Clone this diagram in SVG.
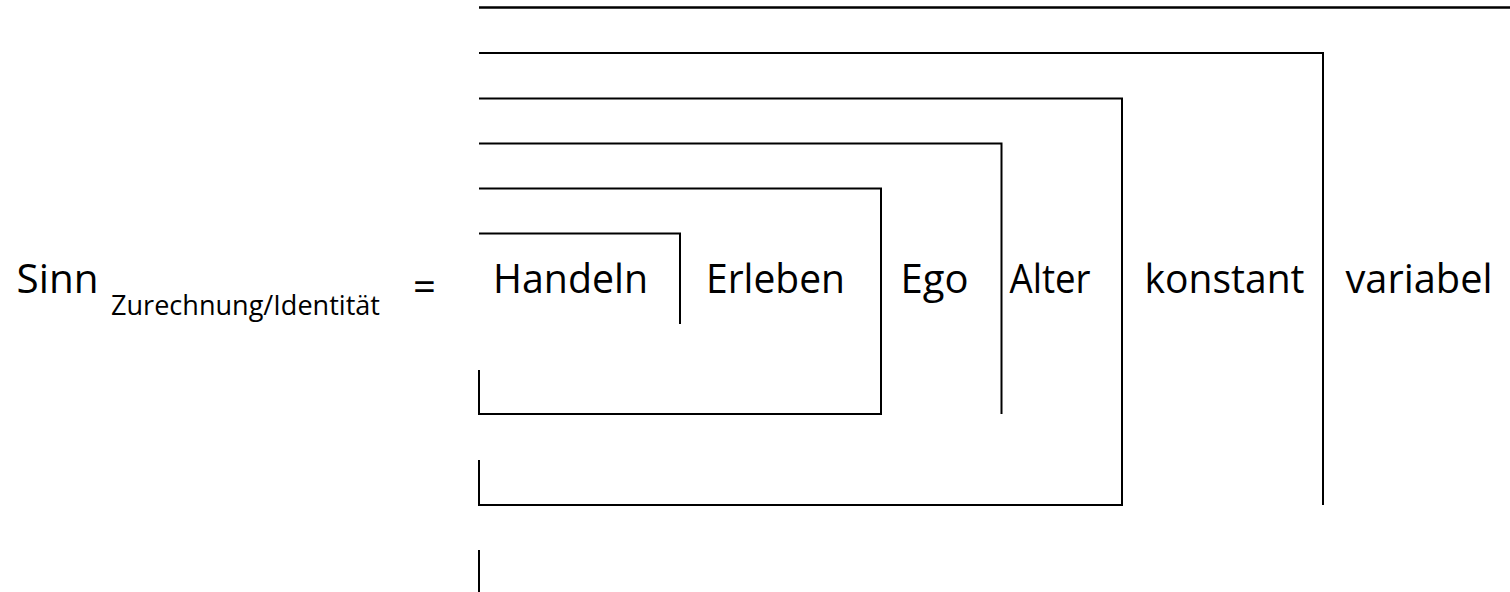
<svg xmlns="http://www.w3.org/2000/svg" width="1510" height="592" viewBox="0 0 1510 592">
<style>
.ln{fill:none;stroke:#000;stroke-width:2;stroke-linejoin:miter;stroke-linecap:butt}
.t{font-family:"Open Sans","Noto Sans","Liberation Sans",sans-serif;font-size:40px;fill:#000;text-anchor:middle}
.s{font-size:27px}
</style>
<rect width="1510" height="592" fill="#fff"/>
<g id="connectors">
<path class="ln" d="M479 7.5 H1510" style="stroke-width:2.6"/>
<path class="ln" d="M479 53 H1323 V505"/>
<path class="ln" d="M479 98.5 H1122 V505 H479 V460"/>
<path class="ln" d="M479 143.5 H1001.5 V414"/>
<path class="ln" d="M479 188.5 H881 V414 H479 V370"/>
<path class="ln" d="M479 233.5 H680 V324"/>
<path class="ln" d="M479 550 V592"/>
</g>
<g id="lhs">
<text class="t" x="57.5" y="293" textLength="82" lengthAdjust="spacingAndGlyphs">Sinn</text>
<text class="t s" x="245.5" y="315" textLength="269" lengthAdjust="spacingAndGlyphs">Zurechnung/Identität</text>
<text class="t" x="424.5" y="301">=</text>
</g>
<g id="handeln"><text class="t" x="570.5" y="293" textLength="155" lengthAdjust="spacingAndGlyphs">Handeln</text></g>
<g id="erleben"><text class="t" x="775.5" y="293" textLength="139" lengthAdjust="spacingAndGlyphs">Erleben</text></g>
<g id="ego"><text class="t" x="934.5" y="293" textLength="68" lengthAdjust="spacingAndGlyphs">Ego</text></g>
<g id="alter"><text class="t" x="1050" y="293" textLength="81" lengthAdjust="spacingAndGlyphs">Alter</text></g>
<g id="konstant"><text class="t" x="1224.5" y="293" textLength="160" lengthAdjust="spacingAndGlyphs">konstant</text></g>
<g id="variabel"><text class="t" x="1419" y="293" textLength="147" lengthAdjust="spacingAndGlyphs">variabel</text></g>
</svg>
